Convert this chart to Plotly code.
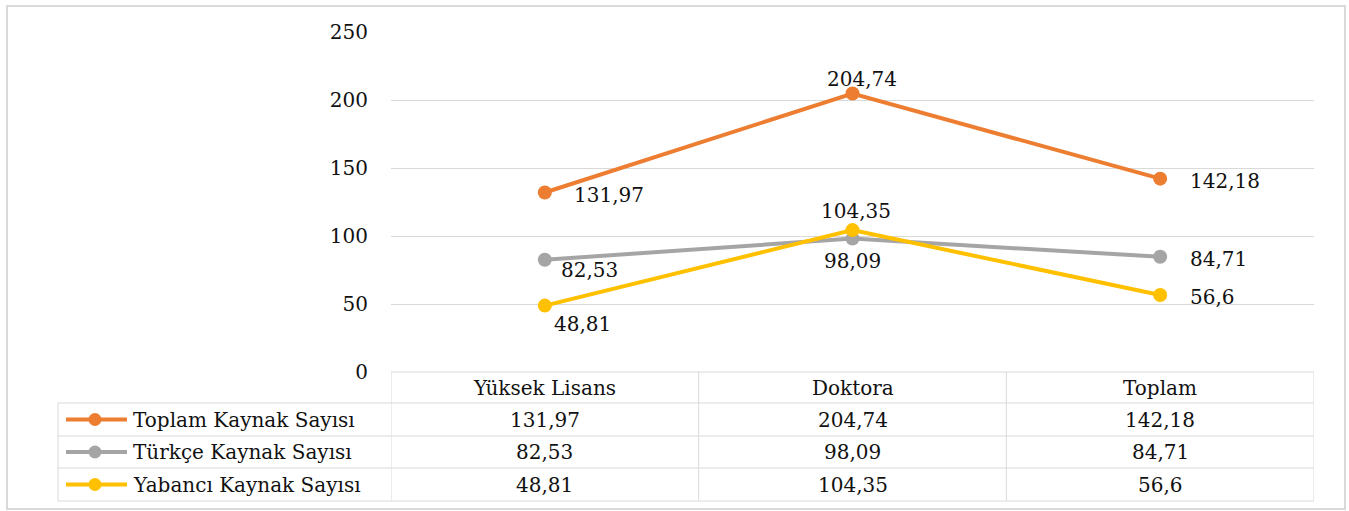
import plotly.graph_objects as go

# ---------------- data ----------------
categories = ["Yüksek Lisans", "Doktora", "Toplam"]
series_names = ["Toplam Kaynak Sayısı", "Türkçe Kaynak Sayısı", "Yabancı Kaynak Sayısı"]
toplam_values = [131.97, 204.74, 142.18]
turkce_values = [82.53, 98.09, 84.71]
yabanci_values = [48.81, 104.35, 56.6]
y_ticks = [0, 50, 100, 150, 200, 250]

series_values = [toplam_values, turkce_values, yabanci_values]

# ---------------- styles ----------------
colors = ["#ED7D31", "#A5A5A5", "#FFC000"]
FONT = "DejaVu Serif"
FS = 20
TXT = "#111111"
GRID = "#D9D9D9"
W, H = 1349, 511
L, R, T, B = 391, 1314, 32, 372  # plot area in pixels

# label offsets (xanchor, xshift, yshift) per series per category, in pixels
label_pos = [
    [("left", 27, -2), ("center", 9, 15), ("left", 28, -2)],
    [("left", 14, -10), ("center", 0, -22), ("left", 28, -2)],
    [("left", 7, -18), ("center", 3, 19), ("left", 28, -2)],
]


def fmt(v):
    s = f"{v:.2f}".rstrip("0").rstrip(".")
    return s.replace(".", ",")


def px(x):
    return (x - L) / (R - L)


def py(y):
    return (B - y) / (B - T)


fig = go.Figure()
for name, vals, col in zip(series_names, series_values, colors):
    fig.add_trace(go.Scatter(
        x=categories, y=vals, name=name, mode="lines+markers",
        line=dict(color=col, width=4),
        marker=dict(color=col, size=14),
        showlegend=False, hoverinfo="x+y+name",
    ))

annotations = []
# data labels
for si, vals in enumerate(series_values):
    for ci, v in enumerate(vals):
        anc, xs, ys = label_pos[si][ci]
        annotations.append(dict(
            x=categories[ci], y=v, xref="x", yref="y", text=fmt(v),
            showarrow=False, xanchor=anc, yanchor="middle",
            xshift=xs, yshift=ys, font=dict(family=FONT, size=FS, color=TXT),
        ))

# ---------------- data table ----------------
row_edges = [372, 403, 436, 468, 501]
col_edges = [-0.5, 0.5, 1.5, 2.5]
shapes = []
line_style = dict(color=GRID, width=1)
# horizontal lines
for i, ry in enumerate(row_edges):
    x0 = px(58) if i > 0 else 0
    shapes.append(dict(type="line", xref="paper", yref="paper",
                       x0=x0, x1=1, y0=py(ry), y1=py(ry), line=line_style, layer="below"))
# vertical lines at category boundaries
for ce in col_edges:
    shapes.append(dict(type="line", xref="x", yref="paper",
                       x0=ce, x1=ce, y0=py(row_edges[0]), y1=py(row_edges[-1]), line=line_style))
# legend column left edge
shapes.append(dict(type="line", xref="paper", yref="paper",
                   x0=px(58), x1=px(58), y0=py(row_edges[1]), y1=py(row_edges[-1]), line=line_style))

# header texts
hy = (row_edges[0] + row_edges[1]) / 2
for c in categories:
    annotations.append(dict(x=c, y=py(hy), xref="x", yref="paper", text=c,
                            showarrow=False, xanchor="center", yanchor="middle",
                            font=dict(family=FONT, size=FS, color=TXT)))

for si, (name, vals, col) in enumerate(zip(series_names, series_values, colors)):
    cy = (row_edges[si + 1] + row_edges[si + 2]) / 2
    # legend key
    shapes.append(dict(type="line", xref="paper", yref="paper",
                       x0=px(66), x1=px(127), y0=py(cy), y1=py(cy),
                       line=dict(color=col, width=4)))
    shapes.append(dict(type="circle", xref="paper", yref="paper",
                       xsizemode="pixel", ysizemode="pixel",
                       xanchor=px(95), yanchor=py(cy), x0=-6.5, x1=6.5, y0=-6.5, y1=6.5,
                       fillcolor=col, line=dict(color=col, width=0)))
    annotations.append(dict(x=px(131), y=py(cy), xref="paper", yref="paper", text=name,
                            showarrow=False, xanchor="left", yanchor="middle",
                            font=dict(family=FONT, size=FS, color=TXT)))
    for ci, v in enumerate(vals):
        annotations.append(dict(x=categories[ci], y=py(cy), xref="x", yref="paper",
                                text=fmt(v), showarrow=False, xanchor="center",
                                yanchor="middle", font=dict(family=FONT, size=FS, color=TXT)))

# outer frame
shapes.append(dict(type="rect", xref="paper", yref="paper",
                   x0=px(7), x1=px(1345), y0=py(6), y1=py(509),
                   line=dict(color=GRID, width=2), fillcolor="rgba(0,0,0,0)"))

fig.update_layout(
    width=W, height=H,
    margin=dict(l=L, r=W - R, t=T, b=H - B, pad=0),
    paper_bgcolor="white", plot_bgcolor="white",
    xaxis=dict(type="category", range=[-0.5, 2.5], showgrid=False, zeroline=False,
               showticklabels=False, showline=False, fixedrange=True),
    yaxis=dict(range=[0, 250], tickvals=y_ticks, showgrid=True, gridcolor=GRID, gridwidth=1,
               zeroline=False, showline=False, ticks="outside", ticklen=18,
               tickcolor="rgba(0,0,0,0)", automargin=False,
               tickfont=dict(family=FONT, size=FS, color=TXT)),
    shapes=shapes, annotations=annotations,
)

fig.write_html("out.html")
